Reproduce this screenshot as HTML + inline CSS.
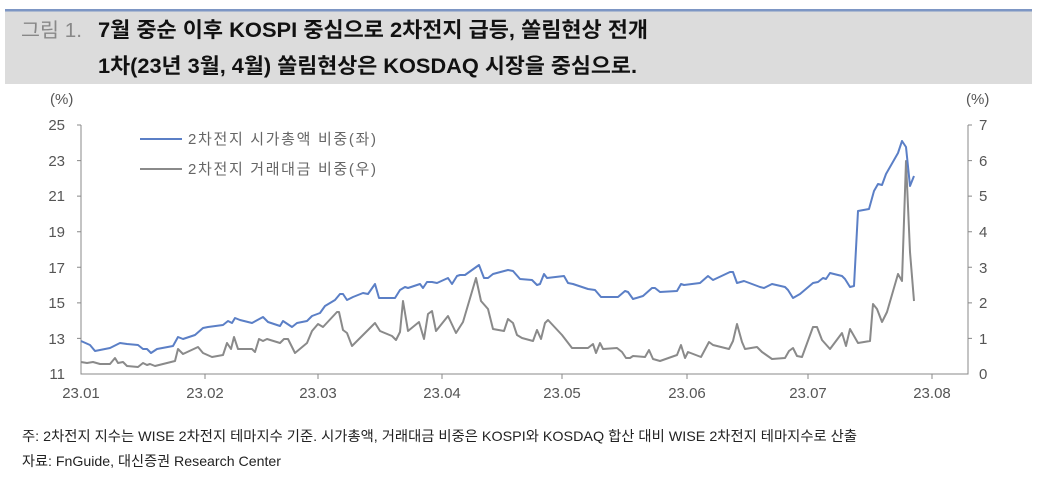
<!DOCTYPE html>
<html><head><meta charset="utf-8"><style>
body{margin:0;background:#fff;width:1038px;height:488px;overflow:hidden;font-family:"Liberation Sans","Noto Sans CJK KR",sans-serif;}
</style></head><body>
<svg width="1038" height="488" xmlns="http://www.w3.org/2000/svg" style="position:absolute;left:0;top:0;font-family:'Liberation Sans','Noto Sans CJK KR',sans-serif">
<rect x="5" y="10" width="1027" height="74" fill="#dcdcdc"/>
<rect x="5" y="9" width="1027" height="2.5" fill="#7d96c4"/>
<text x="21" y="37" font-size="20" fill="#888" textLength="61" lengthAdjust="spacingAndGlyphs">그림 1.</text>
<text x="98" y="37" font-size="21" font-weight="bold" fill="#111" textLength="550" lengthAdjust="spacingAndGlyphs">7월 중순 이후 KOSPI 중심으로 2차전지 급등, 쏠림현상 전개</text>
<text x="98" y="73" font-size="21" font-weight="bold" fill="#111" textLength="539" lengthAdjust="spacingAndGlyphs">1차(23년 3월, 4월) 쏠림현상은 KOSDAQ 시장을 중심으로.</text>
<g font-size="15" fill="#555">
<text x="50" y="104">(%)</text><text x="966" y="104">(%)</text>
<g text-anchor="end">
<text x="65" y="130">25</text><text x="65" y="166">23</text><text x="65" y="201">21</text><text x="65" y="237">19</text><text x="65" y="273">17</text><text x="65" y="308">15</text><text x="65" y="344">13</text><text x="65" y="379">11</text>
</g>
<text x="979" y="130">7</text><text x="979" y="166">6</text><text x="979" y="201">5</text><text x="979" y="237">4</text><text x="979" y="273">3</text><text x="979" y="308">2</text><text x="979" y="344">1</text><text x="979" y="379">0</text>
<g text-anchor="middle">
<text x="81" y="398">23.01</text><text x="205" y="398">23.02</text><text x="318" y="398">23.03</text><text x="442" y="398">23.04</text><text x="562" y="398">23.05</text><text x="687" y="398">23.06</text><text x="808" y="398">23.07</text><text x="932" y="398">23.08</text>
</g>
</g>
<g stroke="#888" stroke-width="1" fill="none">
<path d="M81,125V374H968V125"/>
<path d="M77,125H81M77,160.6H81M77,196.1H81M77,231.7H81M77,267.3H81M77,302.9H81M77,338.4H81"/>
<path d="M968,125H972M968,160.6H972M968,196.1H972M968,231.7H972M968,267.3H972M968,302.9H972M968,338.4H972"/>
<path d="M205,374V379M318,374V379M442,374V379M562,374V379M687,374V379M808,374V379M932,374V379"/>
</g>
<line x1="140" y1="139" x2="182" y2="139" stroke="#5b7fc6" stroke-width="2"/>
<line x1="140" y1="169" x2="182" y2="169" stroke="#8a8a8a" stroke-width="2"/>
<text x="188" y="144" font-size="15" fill="#666" textLength="188" lengthAdjust="spacing">2차전지 시가총액 비중(좌)</text>
<text x="188" y="174" font-size="15" fill="#666" textLength="188" lengthAdjust="spacing">2차전지 거래대금 비중(우)</text>
<polyline fill="none" stroke="#8a8a8a" stroke-width="2" stroke-linejoin="round" points="81,362 87,363 93,362 100,364 110,364 115,358 118,363 123,362 127,366 138,367 143,363 147,365 150,364 155,366 175,361 178,349 183,354 198,347 203,353 212,357 223,355 227,343 231,349 234,337 238,349 252,349 255,352 259,339 263,341 267,339 280,343 284,339 288,339 295,353 307,343 312,331 318,324 323,327 337,312 339,312 343,330 347,333 352,346 375,323 380,331 392,336 396,340 400,332 403,301 408,331 419,322 424,339 428,314 432,311 436,331 448,316 456,333 463,322 476,278 481,301 488,309 493,329 504,331 508,319 513,323 517,335 522,338 533,341 537,330 541,339 545,323 548,320 562,335 572,348 588,348 593,344 596,353 600,343 603,349 617,348 622,352 626,358 630,358 633,356 645,357 649,350 653,359 660,361 677,355 681,345 685,358 688,352 701,357 709,342 713,345 729,349 733,341 737,324 742,342 745,349 757,347 762,352 772,359 785,358 789,351 793,348 797,356 802,357 813,327 817,327 822,340 830,349 842,333 846,346 850,329 858,343 870,341 873,304 877,309 882,322 887,312 898,274 902,281 906,161 910,252 914,301"/>
<polyline fill="none" stroke="#5b7fc6" stroke-width="2" stroke-linejoin="round" points="81,341 90,345 95,351 110,348 120,343 127,344 138,345 143,349 147,349 151,353 157,349 173,346 178,337 183,339 195,335 203,328 208,327 223,325 228,321 232,323 235,318 240,320 252,323 263,317 268,322 280,326 283,321 292,327 297,323 307,321 312,316 320,313 325,306 335,300 340,294 343,294 347,300 353,297 363,293 368,294 375,284 379,298 395,298 400,290 405,287 408,288 420,284 423,288 427,282 432,282 437,283 448,278 452,284 457,276 460,275 465,275 479,265 484,278 488,278 493,274 508,270 513,271 520,279 532,280 537,285 540,284 544,274 547,278 564,276 568,283 573,284 588,289 595,290 601,297 618,297 625,291 628,292 633,299 643,296 652,288 655,288 660,292 677,291 681,284 684,285 700,283 708,276 713,280 730,272 733,272 737,283 744,281 760,287 764,288 772,284 785,287 788,290 793,298 800,294 813,283 818,282 823,278 826,279 830,273 842,276 845,279 850,287 854,286 858,211 869,209 874,191 878,184 882,185 886,174 898,153 902,141 906,147 910,186 914,176"/>
<text x="22" y="441" font-size="14" fill="#222" textLength="835" lengthAdjust="spacingAndGlyphs">주: 2차전지 지수는 WISE 2차전지 테마지수 기준. 시가총액, 거래대금 비중은 KOSPI와 KOSDAQ 합산 대비 WISE 2차전지 테마지수로 산출</text>
<text x="22" y="466" font-size="14" fill="#222" textLength="259" lengthAdjust="spacingAndGlyphs">자료: FnGuide, 대신증권 Research Center</text>
</svg>
</body></html>
